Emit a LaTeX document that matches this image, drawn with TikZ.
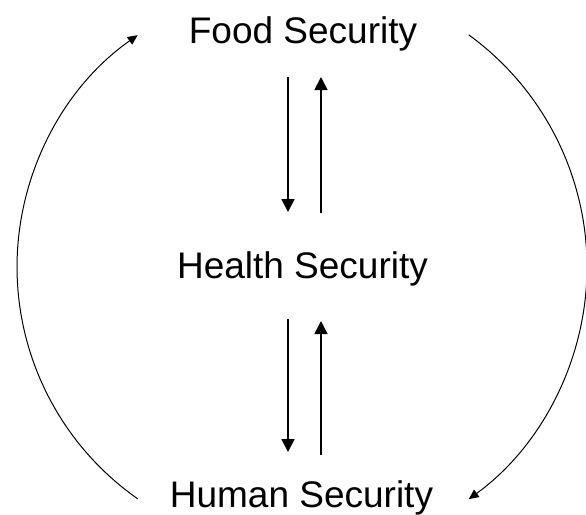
\documentclass[tikz,border=0pt]{standalone}
\usepackage{fontspec}
\setmainfont{Liberation Sans}
\usepackage{tikz}
\usetikzlibrary{positioning}
\usetikzlibrary{arrows.meta}

\begin{document}
\begin{tikzpicture}[x=0.5pt,y=-0.5pt,
  lbl/.style={inner sep=0pt,anchor=base,font=\fontsize{18.5pt}{22pt}\selectfont},
  vec/.style={line width=0.8pt,-{Triangle[length=6.5pt,width=6.5pt]}},
  loop/.style={line width=0.5pt,-{Triangle[length=5pt,width=4.5pt]}}]
\useasboundingbox (0,0) rectangle (586,515);

\node[lbl] (food) at (303,43) {Food Security};
\node[lbl] (health) at (302.5,278) {Health Security};
\node[lbl] (human) at (301.5,507) {Human Security};

% food <-> health
\coordinate (fd) at (288,77);
\coordinate (hd) at (288,212);
\coordinate (hu) at (321,213);
\coordinate (fu) at (321,77);
\draw[vec] (fd) -- (hd);
\draw[vec] (hu) -- (fu);

% health <-> human
\coordinate (hd2) at (288,319);
\coordinate (md) at (288,452);
\coordinate (mu) at (321,455);
\coordinate (hu2) at (321,321);
\draw[vec] (hd2) -- (md);
\draw[vec] (mu) -- (hu2);

% outer loop
\coordinate (ls) at (137.7,498.8);
\coordinate (rs) at (468.7,34.8);
\draw[loop] (ls) arc[start angle=125,end angle=235,radius=283];
\draw[loop] (rs) arc[start angle=-54,end angle=54,radius=287];
\end{tikzpicture}
\end{document}
